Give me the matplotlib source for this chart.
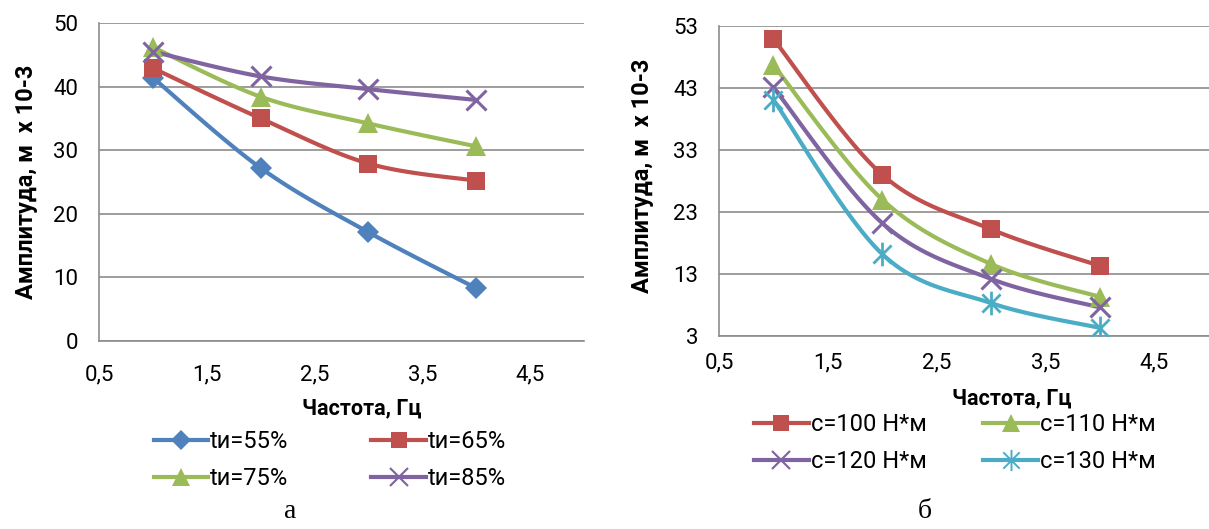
import numpy as np
import matplotlib
matplotlib.use("Agg")
import matplotlib.pyplot as plt
from matplotlib.lines import Line2D
from matplotlib.path import Path

# данные, левый график (а)
freq = [1, 2, 3, 4]
labels_a = ["tи=55%", "tи=65%", "tи=75%", "tи=85%"]
amp_55 = [41.4, 27.2, 17.1, 8.3]
amp_65 = [42.9, 35.0, 27.9, 25.2]
amp_75 = [46.2, 38.4, 34.2, 30.6]
amp_85 = [45.5, 41.6, 39.6, 37.9]

# данные, правый график (б)
labels_b = ["c=100 Н*м", "c=110 Н*м", "c=120 Н*м", "c=130 Н*м"]
amp_100 = [50.9, 29.0, 20.2, 14.3]
amp_110 = [46.7, 25.0, 14.6, 9.3]
amp_120 = [43.1, 21.2, 12.2, 7.6]
amp_130 = [41.1, 16.2, 8.3, 4.3]

xticks = [0.5, 1.5, 2.5, 3.5, 4.5]
xtick_labels = ["0,5", "1,5", "2,5", "3,5", "4,5"]
yticks_a = [0, 10, 20, 30, 40, 50]
yticks_b = [3, 13, 23, 33, 43, 53]

W, H = 1209, 529
plt.rcParams['font.family'] = ['Roboto', 'DejaVu Sans']

BLUE = "#4F81BD"
RED = "#C0504D"
GREEN = "#9BBB59"
PURPLE = "#8064A2"
CYAN = "#4BACC6"
GRID = "#8C8C8C"

# звёздочка как в Excel: крест + вертикальная черта
star = Path([(-1, -1), (1, 1), (-1, 1), (1, -1), (0, -1.3), (0, 1.3)],
            [Path.MOVETO, Path.LINETO, Path.MOVETO, Path.LINETO, Path.MOVETO, Path.LINETO])


def fx(px):
    return px / W


def fy(py):
    return 1 - py / H


# сглаживание линии как в Excel (Безье через соседние точки)
def smooth(x, y, n=30):
    p = np.column_stack([x, y]).astype(float)
    p = np.vstack([p[0], p, p[-1]])
    out = []
    for i in range(1, len(p) - 2):
        p0, p1, p2, p3 = p[i - 1], p[i], p[i + 1], p[i + 2]
        c1 = p1 + (p2 - p0) / 6
        c2 = p2 - (p3 - p1) / 6
        t = np.linspace(0, 1, n)[:, None]
        seg = (1 - t) ** 3 * p1 + 3 * (1 - t) ** 2 * t * c1 + 3 * (1 - t) * t ** 2 * c2 + t ** 3 * p2
        out.append(seg)
    out = np.vstack(out)
    return out[:, 0], out[:, 1]


def draw_series(ax, y, color, marker, ms, mew=0, filled=True):
    sx, sy = smooth(freq, y)
    ax.plot(sx, sy, color=color, lw=3, solid_capstyle='round', zorder=3)
    fs = 'full' if filled else 'none'
    ax.plot(freq, y, linestyle='none', marker=marker, ms=ms, color=color,
            markeredgecolor=color, mew=mew, fillstyle=fs, zorder=4)
    return Line2D([], [], color=color, lw=3, marker=marker, ms=ms * 0.9,
                  markeredgecolor=color, mew=mew * 0.7, fillstyle=fs)


def style_axes(ax, ylim, yticks, pad_y, pad_x):
    ax.set_xlim(0.5, 5.0)
    ax.set_ylim(*ylim)
    ax.set_xticks(xticks)
    ax.set_xticklabels(xtick_labels)
    ax.set_yticks(yticks)
    ax.tick_params(length=0, labelsize=16)
    ax.tick_params(axis='y', pad=pad_y)
    ax.tick_params(axis='x', pad=pad_x)
    ax.grid(axis='y', color=GRID, lw=1.2)
    ax.set_axisbelow(True)
    for s in ['top', 'right']:
        ax.spines[s].set_visible(False)
    for s in ['left', 'bottom']:
        ax.spines[s].set_color(GRID)
        ax.spines[s].set_linewidth(1.2)


# порядок для легенды: строки как в Excel
def row_order(items):
    return [items[0], items[2], items[1], items[3]]


fig = plt.figure(figsize=(W / 100, H / 100), dpi=100)

# --- левый график ---
ax1 = fig.add_axes([fx(99), fy(341), fx(584) - fx(99), fy(23) - fy(341)])
h1 = [
    draw_series(ax1, amp_55, BLUE, 'D', 11),
    draw_series(ax1, amp_65, RED, 's', 13),
    draw_series(ax1, amp_75, GREEN, '^', 14),
    draw_series(ax1, amp_85, PURPLE, 'x', 14, mew=2.2),
]
style_axes(ax1, (0, 50), yticks_a, 15, 17)
fig.text(fx(26), fy(182), "Амплитуда, м  х 10-3", rotation=90, ha='center', va='center',
         fontsize=17, fontweight='bold')
fig.text(fx(362), fy(408), "Частота, Гц", ha='center', va='center', fontsize=15.5, fontweight='bold')
fig.legend(row_order(h1), row_order(labels_a), ncol=2, loc='center',
           bbox_to_anchor=(fx(330), fy(460)), frameon=False, fontsize=17,
           handlelength=2.3, handletextpad=0.1, columnspacing=3.5, labelspacing=0.6)

# --- правый график ---
ax2 = fig.add_axes([fx(719), fy(336), 1 - fx(719), fy(26) - fy(336)])
h2 = [
    draw_series(ax2, amp_100, RED, 's', 13),
    draw_series(ax2, amp_110, GREEN, '^', 14),
    draw_series(ax2, amp_120, PURPLE, 'x', 14, mew=2.2),
    draw_series(ax2, amp_130, CYAN, star, 17, mew=2.0, filled=False),
]
style_axes(ax2, (3, 53), yticks_b, 15, 12)
fig.text(fx(643), fy(176), "Амплитуда, м  х 10-3", rotation=90, ha='center', va='center',
         fontsize=17, fontweight='bold')
fig.text(fx(1012), fy(398), "Частота, Гц", ha='center', va='center', fontsize=15.5, fontweight='bold')
fig.legend(row_order(h2), row_order(labels_b), ncol=2, loc='center',
           bbox_to_anchor=(fx(955), fy(443)), frameon=False, fontsize=17,
           handlelength=2.3, handletextpad=0.1, columnspacing=2.4, labelspacing=0.6)

# подписи рисунков
fig.text(fx(290), fy(512), "а", ha='center', va='center', fontsize=20, family='Liberation Serif')
fig.text(fx(925), fy(512), "б", ha='center', va='center', fontsize=20, family='Liberation Serif')

fig.savefig("out.png", dpi=100)
